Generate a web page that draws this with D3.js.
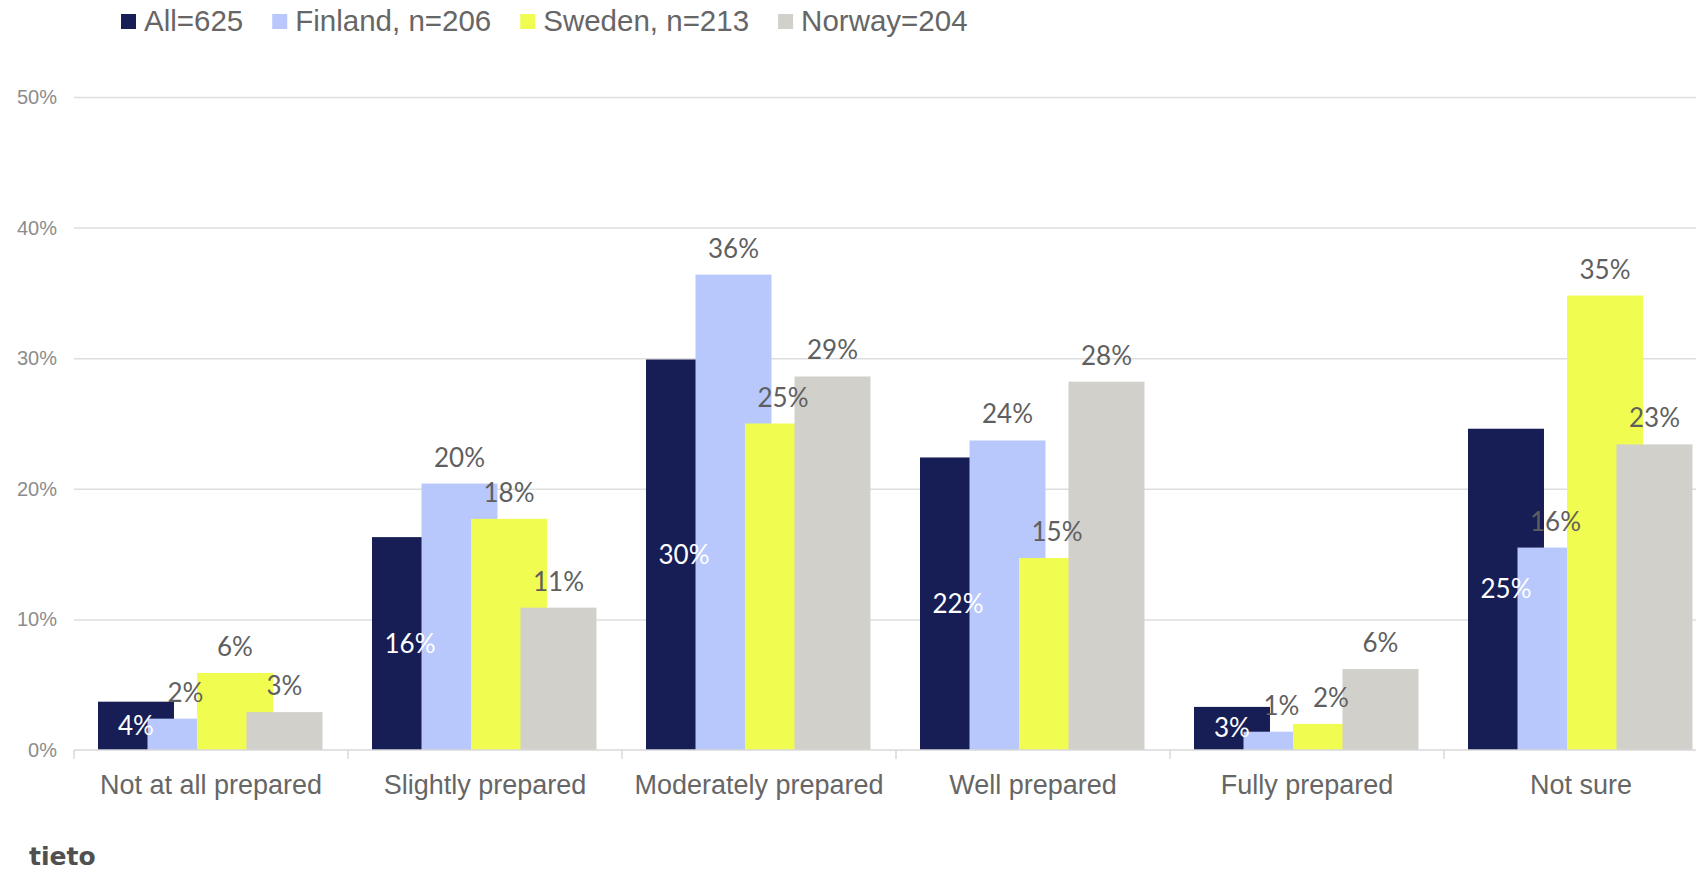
<!DOCTYPE html>
<html>
<head>
<meta charset="utf-8">
<script src="https://cdn.jsdelivr.net/npm/d3@7"></script>
<style>
  body { margin: 0; background: #fff; }
  svg { display: block; }
</style>
</head>
<body>
<svg id="chart"></svg>
<script>
// categories on the x axis
const categories = ["Not at all prepared", "Slightly prepared", "Moderately prepared", "Well prepared", "Fully prepared", "Not sure"];
// series names (legend)
const seriesNames = ["All=625", "Finland, n=206", "Sweden, n=213", "Norway=204"];
// values in percent
const allValues     = [3.7, 16.3, 29.9, 22.4, 3.3, 24.6];
const finlandValues = [2.4, 20.4, 36.4, 23.7, 1.4, 15.5];
const swedenValues  = [5.9, 17.7, 25.0, 14.7, 2.0, 34.8];
const norwayValues  = [2.9, 10.9, 28.6, 28.2, 6.2, 23.4];
// y axis ticks
const yTicks = [0, 10, 20, 30, 40, 50];

const series = [allValues, finlandValues, swedenValues, norwayValues]
  .map((values, i) => ({ name: seriesNames[i], values }));

const width = 1696, height = 872;
const sans = "'Liberation Sans', Arial, sans-serif";
const labelFont = "Lato, 'Open Sans', sans-serif";

const color = d3.scaleOrdinal()
  .domain(seriesNames)
  .range(["#161e55", "#b8c8fc", "#f0fd50", "#d1d0cb"]);

const svg = d3.select("#chart")
  .attr("width", width)
  .attr("height", height);

svg.append("rect").attr("width", width).attr("height", height).attr("fill", "#fff");

// scales
const bandW = 274;
const x = d3.scaleBand()
  .domain(categories)
  .range([74, 74 + categories.length * bandW]);

// bars overlap inside a group, so the bar is wider than the step
const inner = d3.scaleBand()
  .domain(seriesNames)
  .range([24, 222]);
const barW = inner.step() * 1.535;

const y = d3.scaleLinear()
  .domain([0, 50])
  .range([750, 97]);

// gridlines
svg.append("g")
  .attr("transform", "translate(74,0)")
  .call(d3.axisLeft(y).tickValues(yTicks.slice(1)).tickSize(-(width - 74)).tickFormat(""))
  .call(g => g.select(".domain").remove())
  .call(g => g.selectAll("line").attr("stroke", "#dedede").attr("stroke-width", 1.5));

// y tick labels
svg.append("g")
  .attr("transform", "translate(57,0)")
  .call(d3.axisLeft(y).tickValues(yTicks).tickSize(0).tickPadding(0).tickFormat(d => d + "%"))
  .call(g => g.select(".domain").remove())
  .call(g => g.selectAll("text")
    .attr("font-family", sans)
    .attr("font-size", 20)
    .attr("fill", "#8c8c8c"));

// bars, series after series so later ones sit on top
series.forEach(s => {
  svg.append("g")
    .selectAll("rect")
    .data(s.values)
    .join("rect")
      .attr("x", (d, j) => x(categories[j]) + inner(s.name))
      .attr("y", d => y(d))
      .attr("width", barW)
      .attr("height", d => y(0) - y(d))
      .attr("fill", color(s.name));
});

// x axis line and boundary ticks
const xAxis = svg.append("g");
xAxis.append("line")
  .attr("x1", x.range()[0]).attr("x2", width)
  .attr("y1", y(0)).attr("y2", y(0))
  .attr("stroke", "#d9d9d9").attr("stroke-width", 1.5);
xAxis.selectAll(".bound")
  .data(categories.map(c => x(c)))
  .join("line")
    .attr("class", "bound")
    .attr("x1", d => d).attr("x2", d => d)
    .attr("y1", y(0)).attr("y2", y(0) + 9)
    .attr("stroke", "#d9d9d9").attr("stroke-width", 1.5);

// category labels
svg.append("g")
  .attr("transform", `translate(0,${y(0)})`)
  .call(d3.axisBottom(x).tickSize(0).tickPadding(25))
  .call(g => g.select(".domain").remove())
  .call(g => g.selectAll("text")
    .attr("font-family", sans)
    .attr("font-size", 27)
    .attr("fill", "#666"));

// data labels
series.forEach((s, i) => {
  svg.append("g")
    .selectAll("text")
    .data(s.values)
    .join("text")
      .attr("x", (d, j) => x(categories[j]) + inner(s.name) + barW / 2)
      .attr("y", d => i === 0 ? (y(d) + y(0)) / 2 + 9 : y(d) - 17)
      .attr("text-anchor", "middle")
      .attr("font-family", labelFont)
      .attr("font-size", 26)
      .attr("fill", i === 0 ? "#fff" : "#5f5f5f")
      .text(d => Math.round(d) + "%");
});

// legend
const legend = svg.append("g");
let lx = 121;
seriesNames.forEach(name => {
  legend.append("rect")
    .attr("x", lx).attr("y", 14)
    .attr("width", 15).attr("height", 15)
    .attr("fill", color(name));
  const t = legend.append("text")
    .attr("x", lx + 23).attr("y", 31)
    .attr("font-family", sans)
    .attr("font-size", 29.5)
    .attr("fill", "#666")
    .text(name);
  lx = lx + 23 + t.node().getComputedTextLength() + 29;
});

// logo text
svg.append("text")
  .attr("x", 29).attr("y", 865)
  .attr("font-family", "'DejaVu Sans', sans-serif")
  .attr("font-size", 25)
  .attr("font-weight", 600)
  .attr("fill", "#505050")
  .text("tieto");
</script>
</body>
</html>
